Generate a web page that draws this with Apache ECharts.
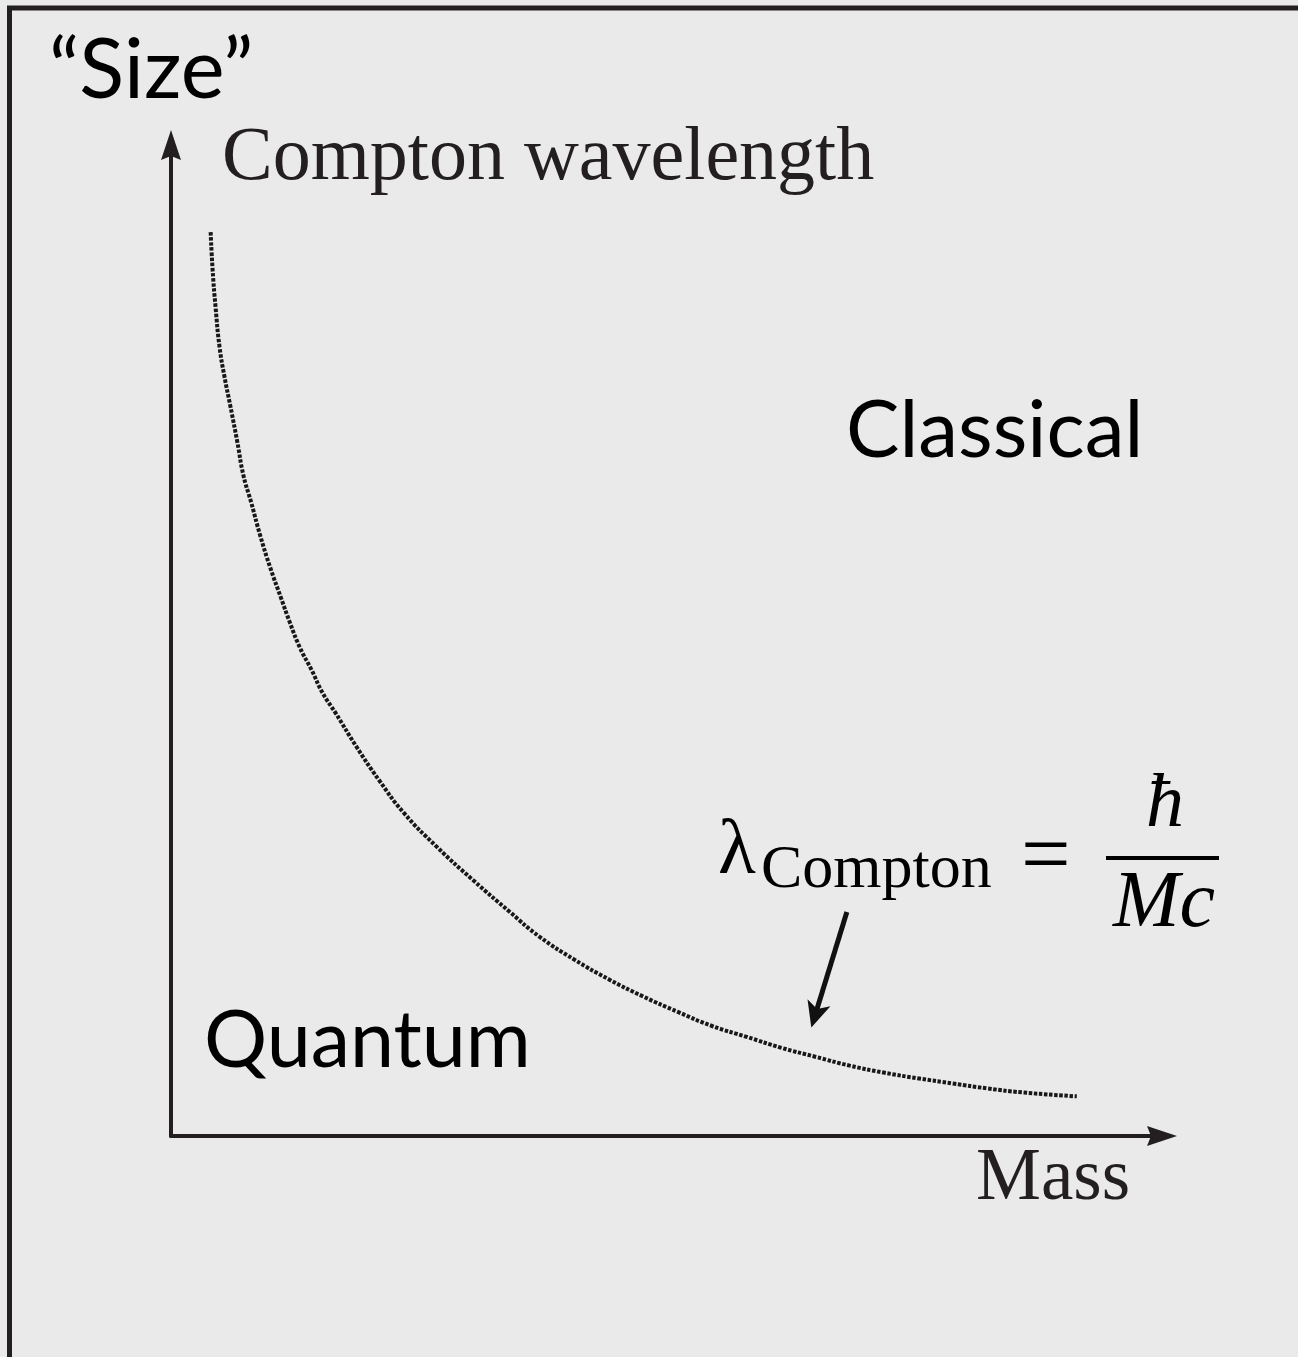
<!DOCTYPE html>
<html>
<head>
<meta charset="utf-8">
<title>Compton wavelength</title>
<style>
  html, body { margin: 0; padding: 0; background: #eaeaea; }
  #chart { width: 1298px; height: 1357px; }
</style>
<script src="https://cdn.jsdelivr.net/npm/echarts@6/dist/echarts.min.js"></script>
</head>
<body>
<div id="chart"></div>
<script>
// Compton wavelength curve, size vs. mass (arbitrary units, both axes 0..10)
const massValues = [
  0.40, 0.42, 0.45, 0.49, 0.54, 0.60, 0.67, 0.73, 0.81, 0.90,
  1.00, 1.11, 1.20, 1.30, 1.42, 1.53, 1.66, 1.87, 2.10, 2.35,
  2.68, 3.05, 3.42, 3.72, 4.07, 4.42, 4.76, 5.12, 5.46, 5.81,
  6.16, 6.50, 6.85, 7.19, 7.55, 7.89, 8.24, 8.59, 9.14
];
const sizeValues = [
  9.12, 8.74, 8.36, 7.96, 7.66, 7.36, 7.00, 6.67, 6.39, 6.06,
  5.74, 5.43, 5.18, 4.93, 4.70, 4.47, 4.27, 3.93, 3.59, 3.26,
  2.92, 2.58, 2.26, 2.01, 1.78, 1.58, 1.41, 1.25, 1.11, 1.00,
  0.89, 0.80, 0.71, 0.64, 0.58, 0.53, 0.48, 0.44, 0.40
];
const axisRange = [0, 10];

// pointer from the formula down to the curve (mass, size)
const pointerFrom = [6.82, 2.26];
const pointerTo = [6.50, 1.22];

const curveData = massValues.map((m, i) => [m, sizeValues[i]]);

const ink = '#231f20';
const axisArrow = 'path://M10,0L20,30L10,26L0,30Z';
const pointerArrow = 'path://M10,0L20,28L10,21L0,28Z';
const sans = 'Lato, "Open Sans", sans-serif';
const serif = '"Liberation Serif", "DejaVu Serif", serif';

const chart = echarts.init(document.getElementById('chart'), null, { renderer: 'canvas' });

function hiddenParts() {
  return {
    axisTick: { show: false },
    axisLabel: { show: false },
    splitLine: { show: false }
  };
}

function label(text, x, y, size, family, color, extra) {
  return {
    type: 'text',
    x: x,
    y: y,
    z: 10,
    style: Object.assign({
      text: text,
      fontSize: size,
      fontFamily: family,
      fill: color,
      align: 'left',
      verticalAlign: 'middle'
    }, extra || {})
  };
}

chart.setOption({
  backgroundColor: '#eaeaea',
  animation: false,
  grid: { left: 171, right: 136, top: 145, bottom: 221, containLabel: false },
  xAxis: Object.assign({
    type: 'value',
    min: axisRange[0],
    max: axisRange[1],
    axisLine: {
      show: true,
      onZero: false,
      symbol: ['none', axisArrow],
      symbolSize: [21, 30],
      lineStyle: { color: ink, width: 4 }
    }
  }, hiddenParts()),
  yAxis: Object.assign({
    type: 'value',
    min: axisRange[0],
    max: axisRange[1],
    axisLine: {
      show: true,
      onZero: false,
      symbol: ['none', axisArrow],
      symbolSize: [21, 30],
      lineStyle: { color: ink, width: 4 }
    }
  }, hiddenParts()),
  series: [{
    type: 'line',
    data: curveData,
    smooth: 0.5,
    symbol: 'none',
    silent: true,
    lineStyle: { color: '#1a1718', width: 4, type: [3.5, 1.6], cap: 'butt' },
    markLine: {
      silent: true,
      animation: false,
      label: { show: false },
      lineStyle: { color: '#111111', width: 5, type: 'solid' },
      data: [[
        { coord: pointerFrom, symbol: 'none' },
        { coord: pointerTo, symbol: pointerArrow, symbolSize: [24, 26] }
      ]]
    }
  }],
  graphic: [
    // frame
    {
      type: 'rect',
      z: 20,
      shape: { x: 9.5, y: 8, width: 1400, height: 1400 },
      style: { fill: 'none', stroke: ink, lineWidth: 5 }
    },
    label('\u201CSize\u201D', 49, 71, 83, sans, '#000000'),
    label('Classical', 846, 431, 80, sans, '#000000'),
    label('Quantum', 204, 1042, 79, sans, '#000000'),
    label('Compton wavelength', 222, 159, 76, serif, ink),
    label('Mass', 976, 1180, 73, serif, ink),
    // formula: lambda_Compton = hbar / (M c)
    label('\u03BB', 718, 853, 78, serif, '#000000'),
    label('Compton', 761, 871, 62, serif, '#000000'),
    label('=', 1021, 860, 88, serif, '#000000'),
    label('\u0127', 1165, 806, 76, serif, '#000000', { align: 'center', fontStyle: 'italic' }),
    {
      type: 'line',
      z: 10,
      shape: { x1: 1106, y1: 858, x2: 1219, y2: 858 },
      style: { stroke: '#000000', lineWidth: 4 }
    },
    label('Mc', 1164, 905, 80, serif, '#000000', { align: 'center', fontStyle: 'italic' })
  ]
});
</script>
</body>
</html>
